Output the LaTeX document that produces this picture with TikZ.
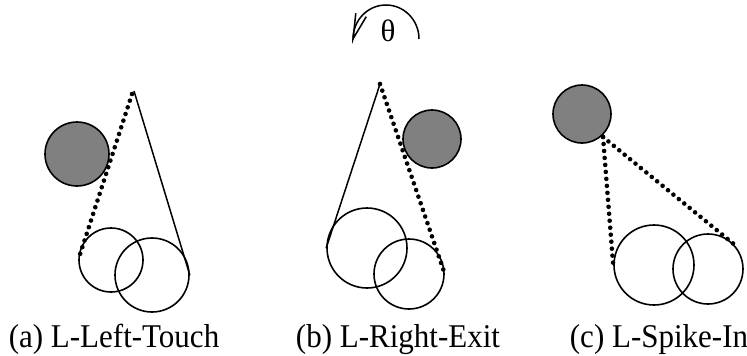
\documentclass[tikz,border=0pt]{standalone}
\usepackage{fontspec}
\setmainfont{Liberation Serif}
\usepackage{tikz}
\usetikzlibrary{arrows.meta,positioning,calc}
\definecolor{ObstGray}{HTML}{808080}

\begin{document}
\begin{tikzpicture}[
  x=1pt,y=-1pt,
  obst/.style={circle,draw=black,fill=ObstGray,line width=1.6pt,inner sep=0pt},
  ring/.style={circle,draw=black,line width=1.6pt,inner sep=0pt},
  ray/.style={line width=1.5pt},
  dotray/.style={line width=4.6pt,line cap=round,dash pattern=on 0pt off 7pt},
  caption/.style={anchor=base,font=\fontsize{31}{31}\selectfont,inner sep=0pt,yscale=1.07,transform shape}
]
\useasboundingbox (0,0) rectangle (747,356);
% rotation marker
\coordinate (rotc) at (386,39);
\draw[line width=1.5pt,-{Straight Barb[length=25pt,width=11pt,line width=1.5pt]}] ($(rotc)+(33,0)$) arc[start angle=0,end angle=-180,x radius=33,y radius=34] -- ++(-1,3);
\node[font=\fontsize{31}{31}\selectfont,inner sep=0pt] (theta) at (388,31) {θ};
% (a) L-Left-Touch
\node[obst,minimum size=64pt] (obsA) at (77,154) {};
\node[ring,minimum size=64pt] (ringA1) at (111,260) {};
\node[ring,minimum size=74pt] (ringA2) at (152,275) {};
\coordinate (apexA) at (134,91);
\draw[dotray] (apexA)++(-2,3) -- (ringA1.west);
\draw[ray] (apexA) -- (ringA2.east);
\node[caption] (capA) at (114,347) {(a) L-Left-Touch};
% (b) L-Right-Exit
\node[obst,minimum size=58pt] (obsB) at (432,139) {};
\node[ring,minimum size=80pt] (ringB1) at (367,248) {};
\node[ring,minimum size=70pt] (ringB2) at (409,274) {};
\coordinate (apexB) at (380,84);
\draw[ray] (apexB) -- (ringB1.west);
\draw[dotray] (apexB) -- (ringB2.east);
\node[caption] (capB) at (398,347) {(b) L-Right-Exit};
% (c) L-Spike-In
\node[obst,minimum size=58pt] (obsC) at (582,114) {};
\node[ring,minimum size=80pt] (ringC1) at (654,265) {};
\node[ring,minimum size=70pt] (ringC2) at (708,269) {};
\coordinate (apexC) at (603,137);
\draw[dotray] (apexC) -- (ringC1.west);
\draw[dotray] (apexC) -- (ringC2.north east);
\node[caption] (capC) at (659,347) {(c) L-Spike-In};
\end{tikzpicture}
\end{document}
